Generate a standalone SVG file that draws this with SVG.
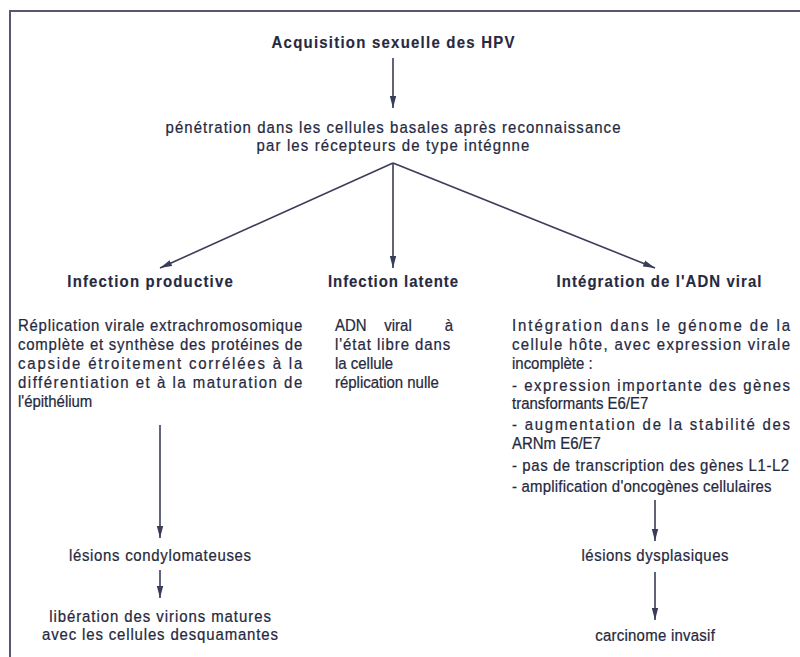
<svg xmlns="http://www.w3.org/2000/svg" width="800" height="657" viewBox="0 0 800 657">
  <style>
    text { font-family: "Liberation Sans", Arial, sans-serif; font-size: 17px; fill: #262940; stroke: #262940; stroke-width: 0.25; }
    .b { font-weight: bold; stroke-width: 0.15; }
    .c { text-anchor: middle; }
    .e { text-anchor: end; }
    .ln { stroke: #3a3d58; stroke-width: 1.6; fill: none; }
    .frame { stroke: #55586e; stroke-width: 2; fill: none; }
  </style>
  <defs>
    <marker id="ah" viewBox="0 0 12 8" refX="12" refY="4" markerWidth="12" markerHeight="8" markerUnits="userSpaceOnUse" orient="auto">
      <path d="M0,0.8 L12,4 L0,7.2 Z" fill="#3a3d58"/>
    </marker>
  </defs>
  <rect width="800" height="657" fill="#ffffff"/>
  <path class="frame" d="M10,657 V11 H800"/>

  <!-- text is set in a slightly narrowed face: each line is placed by translate, then squeezed to 88% width -->
  <g id="acquisition">
    <text class="b c" transform="translate(393 48) scale(0.88 1)" textLength="276">Acquisition sexuelle des HPV</text>
  </g>
  <g id="penetration">
    <text class="c" transform="translate(393 133) scale(0.88 1)" textLength="517">pénétration dans les cellules basales après reconnaissance</text>
    <text class="c" transform="translate(393 151) scale(0.88 1)" textLength="310">par les récepteurs de type intégnne</text>
  </g>

  <g id="productive">
    <text class="b c" transform="translate(150 287) scale(0.88 1)" textLength="188">Infection productive</text>
    <text transform="translate(18 331) scale(0.88 1)" textLength="323" lengthAdjust="spacing">Réplication virale extrachromosomique</text>
    <text transform="translate(18 350) scale(0.88 1)" textLength="323" lengthAdjust="spacing">complète et synthèse des protéines de</text>
    <text transform="translate(18 369) scale(0.88 1)" textLength="323" lengthAdjust="spacing">capside étroitement corrélées à la</text>
    <text transform="translate(18 388) scale(0.88 1)" textLength="323" lengthAdjust="spacing">différentiation et à la maturation de</text>
    <text transform="translate(18 407) scale(0.88 1)">l'épithélium</text>
  </g>
  <g id="latente">
    <text class="b c" transform="translate(393 287) scale(0.88 1)" textLength="148">Infection latente</text>
    <text transform="translate(335 331) scale(0.88 1)">ADN</text>
    <text class="c" transform="translate(398 331) scale(0.88 1)">viral</text>
    <text class="e" transform="translate(453 331) scale(0.88 1)">à</text>
    <text transform="translate(335 350) scale(0.88 1)" textLength="131" lengthAdjust="spacing">l'état libre dans</text>
    <text transform="translate(335 369) scale(0.88 1)">la cellule</text>
    <text transform="translate(335 388) scale(0.88 1)">réplication nulle</text>
  </g>
  <g id="integration">
    <text class="b c" transform="translate(659 287) scale(0.88 1)" textLength="233">Intégration de l'ADN viral</text>
    <text transform="translate(512 331) scale(0.88 1)" textLength="316" lengthAdjust="spacing">Intégration dans le génome de la</text>
    <text transform="translate(512 350) scale(0.88 1)" textLength="316" lengthAdjust="spacing">cellule hôte, avec expression virale</text>
    <text transform="translate(512 369) scale(0.88 1)">incomplète :</text>
    <text transform="translate(512 391) scale(0.88 1)" textLength="316" lengthAdjust="spacing">- expression importante des gènes</text>
    <text transform="translate(512 409) scale(0.88 1)">transformants E6/E7</text>
    <text transform="translate(512 430) scale(0.88 1)" textLength="316" lengthAdjust="spacing">- augmentation de la stabilité des</text>
    <text transform="translate(512 449) scale(0.88 1)">ARNm E6/E7</text>
    <text transform="translate(512 471) scale(0.88 1)" textLength="315">- pas de transcription des gènes L1-L2</text>
    <text transform="translate(512 492) scale(0.88 1)" textLength="295">- amplification d'oncogènes cellulaires</text>
  </g>

  <g id="condylomes">
    <text class="c" transform="translate(160 561) scale(0.88 1)" textLength="207">lésions condylomateuses</text>
  </g>
  <g id="liberation">
    <text class="c" transform="translate(160 622) scale(0.88 1)" textLength="252">libération des virions matures</text>
    <text class="c" transform="translate(160 640) scale(0.88 1)" textLength="268">avec les cellules desquamantes</text>
  </g>
  <g id="dysplasie">
    <text class="c" transform="translate(655 561) scale(0.88 1)" textLength="167">lésions dysplasiques</text>
  </g>
  <g id="carcinome">
    <text class="c" transform="translate(655 641) scale(0.88 1)" textLength="136">carcinome invasif</text>
  </g>

  <g id="connectors">
    <line class="ln" x1="393" y1="58" x2="393" y2="108" marker-end="url(#ah)"/>
    <line class="ln" x1="393" y1="163" x2="160" y2="268" marker-end="url(#ah)"/>
    <line class="ln" x1="393" y1="163" x2="393" y2="268" marker-end="url(#ah)"/>
    <line class="ln" x1="393" y1="163" x2="655" y2="268" marker-end="url(#ah)"/>
    <line class="ln" x1="160" y1="425" x2="160" y2="538" marker-end="url(#ah)"/>
    <line class="ln" x1="160" y1="570" x2="160" y2="598" marker-end="url(#ah)"/>
    <line class="ln" x1="655" y1="500" x2="655" y2="541" marker-end="url(#ah)"/>
    <line class="ln" x1="655" y1="572" x2="655" y2="620" marker-end="url(#ah)"/>
  </g>
</svg>
